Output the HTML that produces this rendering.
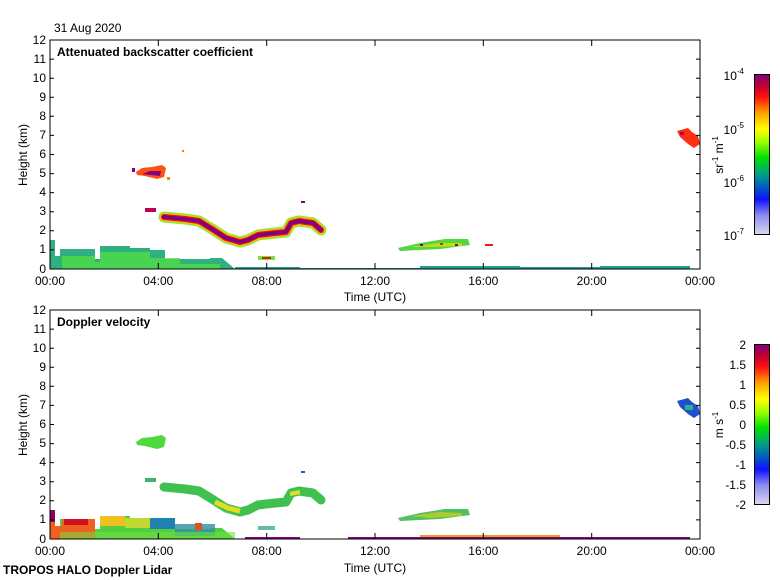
<!DOCTYPE html>
<html><head><meta charset="utf-8"><style>
body{margin:0;background:#fff}
svg{display:block;font-family:"Liberation Sans",sans-serif}
</style></head><body>
<svg width="780" height="580" viewBox="0 0 780 580" xmlns="http://www.w3.org/2000/svg">
<defs>
<linearGradient id="cb1" x1="0" y1="1" x2="0" y2="0">
<stop offset="0" stop-color="#dcd8ec"/><stop offset="0.12" stop-color="#8c8cf0"/><stop offset="0.22" stop-color="#1010ff"/><stop offset="0.3" stop-color="#0060c0"/><stop offset="0.38" stop-color="#00a080"/><stop offset="0.48" stop-color="#00e000"/><stop offset="0.58" stop-color="#a0ff00"/><stop offset="0.66" stop-color="#ffff00"/><stop offset="0.76" stop-color="#ffa000"/><stop offset="0.86" stop-color="#ff1010"/><stop offset="0.93" stop-color="#c00030"/><stop offset="1" stop-color="#800080"/>
</linearGradient>
<g id="yt">
<text x="46" y="4">12</text><text x="46" y="23">11</text><text x="46" y="42">10</text><text x="46" y="61">9</text><text x="46" y="80">8</text><text x="46" y="99">7</text><text x="46" y="118">6</text><text x="46" y="137">5</text><text x="46" y="156">4</text><text x="46" y="175">3</text><text x="46" y="194">2</text><text x="46" y="213">1</text><text x="46" y="233">0</text>
</g>
<g id="ticks" stroke="#000" stroke-width="1">
<path d="M50,0h6M50,19.1h4M50,38.2h4M50,57.2h4M50,76.3h4M50,95.4h4M50,114.5h4M50,133.6h4M50,152.6h4M50,171.7h4M50,190.8h4M50,209.9h4M700,19.1h-4M700,38.2h-4M700,57.2h-4M700,76.3h-4M700,95.4h-4M700,114.5h-4M700,133.6h-4M700,152.6h-4M700,171.7h-4M700,190.8h-4M700,209.9h-4"/>
<path d="M158.3,229v-6M266.7,229v-6M375,229v-6M483.3,229v-6M591.7,229v-6M158.3,0v6M266.7,0v6M375,0v6M483.3,0v6M591.7,0v6"/>
</g>
<g id="xt" font-size="12" text-anchor="middle">
<text x="50" y="245">00:00</text><text x="158.3" y="245">04:00</text><text x="266.7" y="245">08:00</text><text x="375" y="245">12:00</text><text x="483.3" y="245">16:00</text><text x="591.7" y="245">20:00</text><text x="700" y="245">00:00</text>
</g>
<polyline id="cl" points="164,177 185,179 199,181 212,189 226,198 240,202 248,200 258,195 275,193 286,192 291,183 299,181 313,183 321,190" fill="none" stroke-linejoin="round" stroke-linecap="round"/>
</defs>

<text x="54" y="32" font-size="12">31 Aug 2020</text>

<!-- TOP PLOT -->
<g transform="translate(0,40)">
<path d="M50,229 V200 H55 V216 H60 V209 H95 V219 H100 V206 H130 V208 H150 V210 H165 V219 H210 V218 H222 L235,229 Z" fill="#30b080"/>
<path d="M62,229 V216 H95 V222 H100 V212 H150 V218 H180 V224 H220 V229Z" fill="#50e040" opacity="0.75"/>
<path d="M235,229 V227 H300 V228 H420 V226 H520 V227 H600 V226 H690 V229Z" fill="#20a090"/>
<use href="#cl" stroke="#90e830" stroke-width="11"/>
<use href="#cl" stroke="#ffc000" stroke-width="8"/>
<use href="#cl" stroke="#e01020" stroke-width="6"/>
<use href="#cl" stroke="#800080" stroke-width="3.5"/>
<!-- 5km patch -->
<path d="M136,132 L142,128 L152,127 L162,125 L166,128 L164,137 L157,139 L145,136 L137,135Z" fill="#ff5010"/>
<path d="M142,134 L160,136 L161,131 L150,131Z" fill="#800080"/>
<rect x="132" y="128" width="3" height="4" fill="#800080"/>
<rect x="167" y="137" width="3" height="3" fill="#ff8000"/>
<rect x="182" y="110" width="2" height="2" fill="#ff8000"/>
<!-- 3.1 km -->
<rect x="145" y="168" width="11" height="4" fill="#c00050"/>
<rect x="301" y="161" width="4" height="2" fill="#800080"/>
<!-- 0.6km -->
<rect x="258" y="216" width="17" height="4" fill="#80e040"/>
<rect x="262" y="217" width="9" height="2" fill="#d02020"/>
<!-- 1.2km layer -->
<path d="M398,208 L420,203 L445,199 L468,199 L470,205 L440,209 L400,211Z" fill="#50d840"/>
<path d="M410,207 L440,203 L462,203 L462,206 L430,207Z" fill="#e0e000" opacity="0.8"/>
<rect x="420" y="204" width="3" height="2" fill="#800080"/><rect x="440" y="203" width="3" height="2" fill="#e02020"/><rect x="455" y="204" width="3" height="2" fill="#800080"/>
<rect x="485" y="204" width="8" height="2" fill="#e02020"/>
<!-- 7km -->
<path d="M677,91 L688,88 L692,92 L698,96 L700,104 L694,108 L688,104 L680,97Z" fill="#ff3010"/>
<rect x="680" y="92" width="4" height="3" fill="#a00060"/>
<rect x="50" y="0" width="650" height="229" fill="none" stroke="#000"/>
<use href="#ticks"/>
<g font-size="12" text-anchor="end"><use href="#yt"/></g>
<use href="#xt"/>
<text x="57" y="16" font-size="12" font-weight="bold">Attenuated backscatter coefficient</text>
</g>
<text x="375" y="301" font-size="12" text-anchor="middle">Time (UTC)</text>
<text transform="translate(27,155) rotate(-90)" font-size="12" text-anchor="middle">Height (km)</text>

<rect x="754.5" y="74.5" width="15" height="160" fill="url(#cb1)" stroke="#000"/>
<g font-size="12" text-anchor="end">
<text x="744" y="80">10<tspan font-size="8" dy="-6">-4</tspan></text>
<text x="744" y="134">10<tspan font-size="8" dy="-6">-5</tspan></text>
<text x="744" y="187">10<tspan font-size="8" dy="-6">-6</tspan></text>
<text x="744" y="240">10<tspan font-size="8" dy="-6">-7</tspan></text>
</g>
<text transform="translate(723,155) rotate(-90)" font-size="12" text-anchor="middle">sr<tspan font-size="8" dy="-5">-1</tspan><tspan dy="5"> m</tspan><tspan font-size="8" dy="-5">-1</tspan></text>

<!-- BOTTOM PLOT -->
<g transform="translate(0,310)">
<path d="M50,229 V200 H55 V216 H60 V209 H95 V219 H100 V206 H130 V208 H150 V210 H165 V219 H210 V218 H222 L235,229 Z" fill="#50d040"/>
<path d="M50,200 H55 V212 H50Z" fill="#900060"/>
<path d="M50,212 H55 V229 H50Z" fill="#f06020"/>
<path d="M55,216 H62 V209 H95 V229 H55Z" fill="#f06020"/>
<path d="M64,209 H88 V215 H64Z" fill="#d01020"/>
<path d="M100,206 H125 V216 H100Z" fill="#f0c020"/>
<path d="M125,208 H150 V218 H125Z" fill="#c0d830"/>
<path d="M150,208 H175 V219 H150Z" fill="#2080b0"/>
<path d="M175,214 H215 V226 H175Z" fill="#3090a0" opacity="0.8"/>
<path d="M60,222 H235 V229 H60Z" fill="#70e040" opacity="0.6"/>
<path d="M195,213 H202 V220 H195Z" fill="#e05020"/>
<path d="M245,227 H300 V229 H245Z M348,227 H400 V229 H348Z M400,227 H690 V229 H400Z" fill="#900080"/>
<path d="M420,225 H560 V227 H420Z" fill="#e0a020"/>
<use href="#cl" stroke="#40c050" stroke-width="9"/>
<polyline points="215,192 228,198 240,201" fill="none" stroke="#e0e020" stroke-width="5"/>
<polyline points="290,184 300,182" fill="none" stroke="#e0e020" stroke-width="4"/>
<path d="M136,132 L142,128 L152,127 L162,125 L166,128 L164,137 L157,139 L145,136 L137,135Z" fill="#50d840"/>
<rect x="145" y="168" width="11" height="4" fill="#40b070"/>
<rect x="301" y="161" width="4" height="2" fill="#2060c0"/>
<rect x="258" y="216" width="17" height="4" fill="#60c0a0"/>
<path d="M398,208 L420,203 L445,199 L468,199 L470,205 L440,209 L400,211Z" fill="#50c060"/>
<path d="M410,206 L440,202 L462,203 L462,206 L430,208Z" fill="#d0d020" opacity="0.7"/>
<path d="M677,91 L688,88 L692,92 L698,96 L700,104 L694,108 L688,104 L680,97Z" fill="#2050d0"/>
<rect x="685" y="95" width="8" height="5" fill="#30b090"/>
<rect x="50" y="0" width="650" height="229" fill="none" stroke="#000"/>
<use href="#ticks"/>
<g font-size="12" text-anchor="end"><use href="#yt"/></g>
<use href="#xt"/>
<text x="57" y="16" font-size="12" font-weight="bold">Doppler velocity</text>
</g>
<text x="375" y="572" font-size="12" text-anchor="middle">Time (UTC)</text>
<text transform="translate(27,425) rotate(-90)" font-size="12" text-anchor="middle">Height (km)</text>
<text x="3" y="574" font-size="12" font-weight="bold">TROPOS HALO Doppler Lidar</text>

<rect x="754.5" y="344.5" width="15" height="160" fill="url(#cb1)" stroke="#000"/>
<g font-size="12" text-anchor="end">
<text x="746" y="349">2</text><text x="746" y="369">1.5</text><text x="746" y="389">1</text><text x="746" y="409">0.5</text><text x="746" y="429">0</text><text x="746" y="449">-0.5</text><text x="746" y="469">-1</text><text x="746" y="489">-1.5</text><text x="746" y="509">-2</text>
</g>
<text transform="translate(723,425) rotate(-90)" font-size="12" text-anchor="middle">m s<tspan font-size="8" dy="-5">-1</tspan></text>
</svg>
</body></html>
